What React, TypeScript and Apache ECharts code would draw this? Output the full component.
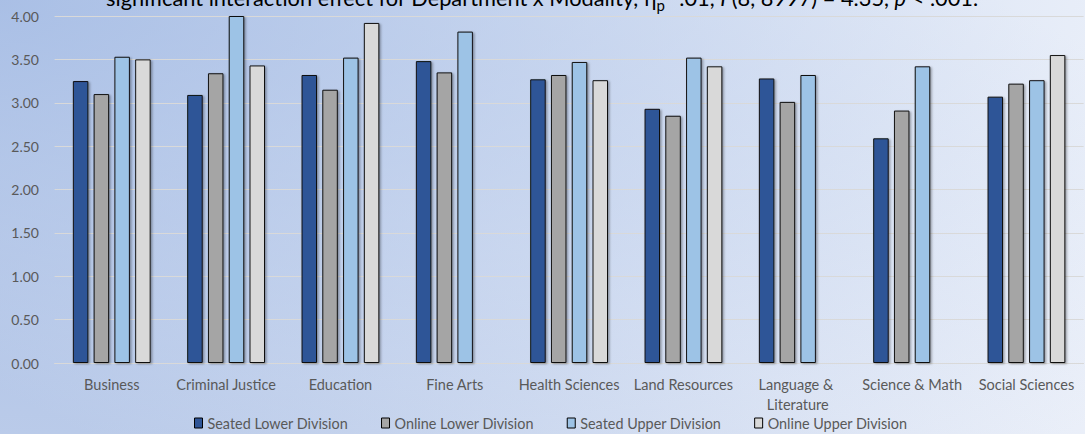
import React, { useEffect, useRef } from 'react';
import * as echarts from 'echarts';

const categories = [
  'Business',
  'Criminal Justice',
  'Education',
  'Fine Arts',
  'Health Sciences',
  'Land Resources',
  'Language & Literature',
  'Science & Math',
  'Social Sciences',
];
const seriesNames = ['Seated Lower Division', 'Online Lower Division', 'Seated Upper Division', 'Online Upper Division'];
const seatedLower = [3.25, 3.09, 3.32, 3.48, 3.27, 2.93, 3.28, 2.59, 3.07];
const onlineLower = [3.1, 3.34, 3.15, 3.35, 3.32, 2.85, 3.01, 2.91, 3.22];
const seatedUpper = [3.53, 4.0, 3.52, 3.82, 3.47, 3.52, 3.32, 3.42, 3.26];
const onlineUpper = [3.5, 3.43, 3.92, null, 3.26, 3.42, null, null, 3.55];
const seriesColors = ['#2F5597', '#A5A5A5', '#9DC3E6', '#D9D9D9'];
const yMin = 0;
const yMax = 4;
const yInterval = 0.5;

const FONT = 'Lato, "Noto Sans", sans-serif';

export default function App() {
  const ref = useRef<HTMLDivElement>(null);
  useEffect(() => {
    if (!ref.current) return;
    const chart = echarts.init(ref.current, undefined, { renderer: 'svg' });
    const values = [seatedLower, onlineLower, seatedUpper, onlineUpper];
    chart.setOption({
      animation: false,
      textStyle: { fontFamily: FONT },
      graphic: [
        {
          type: 'rect',
          z: -100,
          silent: true,
          shape: { x: 0, y: 0, width: 1085, height: 434 },
          style: {
            fill: new echarts.graphic.LinearGradient(0, 0.9, 1, 0.1, [
              { offset: 0, color: '#C4D2EC' },
              { offset: 0.45, color: '#E5EBF7' },
              { offset: 1, color: '#FEFEFF' },
            ]),
          },
        },
        {
          type: 'rect',
          z: -99,
          silent: true,
          shape: { x: 0, y: 0, width: 1085, height: 434 },
          style: {
            fill: new echarts.graphic.RadialGradient(0, 0, 1.4, [
              { offset: 0, color: 'rgba(150,177,224,0.75)' },
              { offset: 1, color: 'rgba(150,177,224,0)' },
            ]),
          },
        },
        {
          type: 'text',
          z: 10,
          silent: true,
          x: 542,
          y: -2.5,
          style: {
            text:
              'significant interaction effect for Department x Modality, η{sub|p}{sup|2} .01, {i|F}(8, 8997) = 4.35, {i|p} < .001.',
            align: 'center',
            verticalAlign: 'middle',
            fontFamily: FONT,
            fontSize: 21.8,
            lineHeight: 30,
            fill: '#000000',
            rich: {
              sub: { fontSize: 15, lineHeight: 15, verticalAlign: 'bottom', fontFamily: FONT, fill: '#000' },
              sup: { fontSize: 15, lineHeight: 15, verticalAlign: 'top', fontFamily: FONT, fill: '#000' },
              i: { fontSize: 21.8, fontStyle: 'italic', fontFamily: FONT, fill: '#000' },
            },
          },
        },
      ],
      grid: { left: 54.6, right: -6.4, top: 16, bottom: 71, containLabel: false },
      legend: {
        left: 189,
        top: 411,
        itemWidth: 8,
        itemHeight: 10,
        itemGap: 33,
        icon: 'rect',
        textStyle: { fontFamily: FONT, fontSize: 14.4, color: '#595959' },
        itemStyle: { borderColor: '#000', borderWidth: 1 },
        data: seriesNames,
      },
      xAxis: {
        type: 'category',
        data: categories,
        axisLine: { show: true, lineStyle: { color: '#D9D9D9', width: 1 } },
        axisTick: { show: false },
        axisLabel: {
          interval: 0,
          margin: 11,
          color: '#595959',
          fontFamily: FONT,
          fontSize: 14.5,
          lineHeight: 20,
          width: 112,
          overflow: 'break',
        },
      },
      yAxis: {
        type: 'value',
        min: yMin,
        max: yMax,
        interval: yInterval,
        axisLine: { show: false },
        axisTick: { show: false },
        axisLabel: {
          margin: 15.6,
          color: '#595959',
          fontFamily: FONT,
          fontSize: 14,
          formatter: (v: number) => v.toFixed(2),
        },
        splitLine: { show: true, lineStyle: { color: '#D9D9D9', width: 1 } },
      },
      series: seriesNames.map((name, i) => ({
        name,
        type: 'bar',
        data: values[i],
        barWidth: 15.5,
        barGap: '34%',
        itemStyle: {
          color: seriesColors[i],
          borderColor: '#111',
          borderWidth: 1,
          shadowColor: 'rgba(0,0,0,0.35)',
          shadowBlur: 2,
          shadowOffsetX: 1.5,
          shadowOffsetY: 1,
        },
      })),
    });
    return () => chart.dispose();
  }, []);
  return (
    <div
      ref={ref}
      style={{ position: 'absolute', left: 0, top: 0, width: 1085, height: 434 }}
    />
  );
}
